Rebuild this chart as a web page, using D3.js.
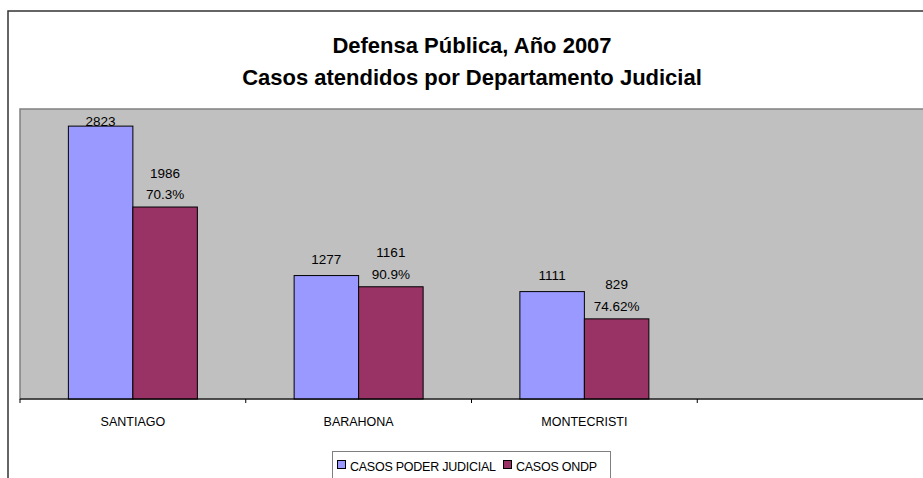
<!DOCTYPE html>
<html>
<head>
<meta charset="utf-8">
<script src="https://cdn.jsdelivr.net/npm/d3@7"></script>
<style>
	html, body { margin: 0; padding: 0; background: #fff; }
	svg { display: block; font-family: Arial, "Liberation Sans", sans-serif; }
</style>
</head>
<body>
<svg id="chart" width="923" height="478"></svg>
<script>
	'use strict';

	// data
	var categories = ['SANTIAGO', 'BARAHONA', 'MONTECRISTI', ''];
	var seriesNames = ['CASOS PODER JUDICIAL', 'CASOS ONDP'];
	var poderJudicial = [2823, 1277, 1111];
	var ondp = [1986, 1161, 829];
	var ondpPercent = ['70.3%', '90.9%', '74.62%'];
	var titleLines = ['Defensa Pública, Año 2007', 'Casos atendidos por Departamento Judicial'];

	var colors = ['#9999FF', '#993366'];

	var plot = { left: 20, top: 109, right: 923, bottom: 399 };

	var svg = d3.select('#chart');

	// outer frame (cropped on the right and bottom)
	svg.append('path')
		.attr('d', 'M8,480 L8,11 L930,11')
		.attr('fill', 'none')
		.attr('stroke', '#333')
		.attr('stroke-width', 1.5);

	// title
	svg.append('g').selectAll('text')
		.data(titleLines)
		.enter()
		.append('text')
		.attr('x', 472)
		.attr('y', function(d, i) { return 53 + i * 32; })
		.attr('text-anchor', 'middle')
		.attr('font-size', 22)
		.attr('font-weight', 'bold')
		.attr('fill', '#000')
		.text(function(d) { return d; });

	// plot area
	svg.append('rect')
		.attr('x', plot.left)
		.attr('y', plot.top)
		.attr('width', plot.right - plot.left + 2)
		.attr('height', plot.bottom - plot.top)
		.attr('fill', '#C0C0C0')
		.attr('stroke', '#808080')
		.attr('stroke-width', 1.5);

	var x0 = d3.scaleBand()
		.domain(categories)
		.range([plot.left, plot.right])
		.padding(0);

	var x1 = d3.scaleBand()
		.domain(seriesNames)
		.range([0, x0.bandwidth()])
		.paddingInner(0)
		.paddingOuter(0.75);

	var y = d3.scaleLinear()
		.domain([0, 3000])
		.range([plot.bottom, plot.top]);

	var rows = poderJudicial.map(function(v, i) {
		return {
			cat: categories[i],
			values: [
				{ series: seriesNames[0], value: v, lines: [String(v)] },
				{ series: seriesNames[1], value: ondp[i], lines: [String(ondp[i]), ondpPercent[i]] }
			]
		};
	});

	var groups = svg.append('g').selectAll('g')
		.data(rows)
		.enter()
		.append('g')
		.attr('transform', function(d) { return 'translate(' + x0(d.cat) + ',0)'; });

	groups.selectAll('rect')
		.data(function(d) { return d.values; })
		.enter()
		.append('rect')
		.attr('x', function(d) { return x1(d.series); })
		.attr('y', function(d) { return y(d.value); })
		.attr('width', x1.bandwidth())
		.attr('height', function(d) { return y(0) - y(d.value); })
		.attr('fill', function(d, i) { return colors[i]; })
		.attr('stroke', '#000')
		.attr('stroke-width', 1);

	// value labels
	groups.selectAll('g.lbl')
		.data(function(d) { return d.values; })
		.enter()
		.append('g')
		.attr('class', 'lbl')
		.each(function(d) {
			var g = d3.select(this),
				n = d.lines.length,
				base = y(d.value) - (n > 1 ? 8 : 12);
			base = Math.max(base, plot.top + 17);
			d.lines.forEach(function(line, j) {
				g.append('text')
					.attr('x', x1(d.series) + x1.bandwidth() / 2)
					.attr('y', base - (n - 1 - j) * 21.5)
					.attr('text-anchor', 'middle')
					.attr('font-size', 13.5)
					.attr('fill', '#000')
					.text(line);
			});
		});

	// category axis
	var axis = svg.append('g');
	axis.append('line')
		.attr('x1', plot.left)
		.attr('x2', plot.right + 2)
		.attr('y1', plot.bottom)
		.attr('y2', plot.bottom)
		.attr('stroke', '#000')
		.attr('stroke-width', 1);

	axis.selectAll('line.tick')
		.data(categories)
		.enter()
		.append('line')
		.attr('class', 'tick')
		.attr('x1', function(d) { return x0(d); })
		.attr('x2', function(d) { return x0(d); })
		.attr('y1', plot.bottom)
		.attr('y2', plot.bottom + 4)
		.attr('stroke', '#000');

	axis.selectAll('text')
		.data(categories)
		.enter()
		.append('text')
		.attr('x', function(d) { return x0(d) + x0.bandwidth() / 2; })
		.attr('y', 426)
		.attr('text-anchor', 'middle')
		.attr('font-size', 12.5)
		.attr('fill', '#000')
		.text(function(d) { return d; });

	// legend
	var legend = svg.append('g');
	legend.append('rect')
		.attr('x', 332.5)
		.attr('y', 451.5)
		.attr('width', 278)
		.attr('height', 40)
		.attr('fill', '#fff')
		.attr('stroke', '#808080');

	var legendX = [337, 503];
	var items = legend.selectAll('g.item')
		.data(seriesNames)
		.enter()
		.append('g')
		.attr('class', 'item')
		.attr('transform', function(d, i) { return 'translate(' + legendX[i] + ',0)'; });

	items.append('rect')
		.attr('x', 0.5)
		.attr('y', 460.5)
		.attr('width', 8)
		.attr('height', 8)
		.attr('fill', function(d, i) { return colors[i]; })
		.attr('stroke', '#000')
		.attr('stroke-width', 1);

	items.append('text')
		.attr('x', 13)
		.attr('y', 471)
		.attr('font-size', 12.5)
		.attr('letter-spacing', -0.25)
		.attr('fill', '#000')
		.text(function(d) { return d; });
</script>
</body>
</html>
